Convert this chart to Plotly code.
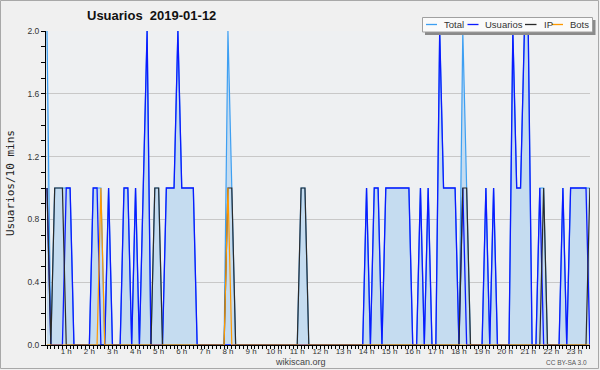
import plotly.graph_objects as go

# 10-minute slots (142 points shown), hour labels
slots = list(range(142))
hour_labels = [f"{h} h" for h in range(1, 24)]
hour_pos = [6 * h - 1 for h in range(1, 24)]

# values per 10-minute slot, grouped by hour (6 per row)
total = [
    2, 0, 1, 1, 1, 1,
    1, 0, 0, 0, 0, 0,
    1, 1, 1, 0, 1, 0,
    0, 0, 1, 1, 0, 1,
    0, 1, 2, 0, 1, 1,
    0, 1, 1, 1, 2, 1,
    1, 1, 1, 0, 0, 0,
    0, 0, 0, 0, 0, 2,
    1, 0, 0, 0, 0, 0,
    0, 0, 0, 0, 0, 0,
    0, 0, 0, 0, 0, 0,
    1, 1, 0, 0, 0, 0,
    0, 0, 0, 0, 0, 0,
    0, 0, 0, 0, 0, 1,
    0, 1, 1, 0, 1, 1,
    1, 1, 1, 1, 1, 0,
    0, 1, 0, 1, 0, 0,
    2, 1, 1, 1, 1, 0,
    2, 1, 0, 0, 0, 0,
    1, 0, 1, 0, 0, 0,
    0, 2, 1, 1, 2, 2,
    0, 0, 1, 1, 0, 0,
    0, 0, 1, 0, 1, 1,
    1, 1, 1, 1,
]
usuarios = [
    1, 0, 0, 0, 0, 1,
    1, 0, 0, 0, 0, 0,
    1, 1, 0, 0, 1, 0,
    0, 0, 1, 1, 0, 1,
    0, 1, 2, 0, 0, 0,
    0, 1, 1, 1, 2, 1,
    1, 1, 1, 0, 0, 0,
    0, 0, 0, 0, 0, 0,
    0, 0, 0, 0, 0, 0,
    0, 0, 0, 0, 0, 0,
    0, 0, 0, 0, 0, 0,
    0, 0, 0, 0, 0, 0,
    0, 0, 0, 0, 0, 0,
    0, 0, 0, 0, 0, 1,
    0, 1, 1, 0, 1, 1,
    1, 1, 1, 1, 1, 0,
    0, 1, 0, 1, 0, 0,
    2, 1, 1, 1, 1, 0,
    1, 0, 0, 0, 0, 0,
    1, 0, 1, 0, 0, 0,
    0, 2, 1, 1, 2, 2,
    0, 0, 1, 0, 0, 0,
    0, 0, 1, 0, 1, 1,
    1, 1, 1, 0,
]
ip = [
    1, 0, 1, 1, 1, 0,
    0, 0, 0, 0, 0, 0,
    0, 0, 0, 0, 0, 0,
    0, 0, 0, 0, 0, 0,
    0, 0, 0, 0, 1, 1,
    0, 0, 0, 0, 0, 0,
    0, 0, 0, 0, 0, 0,
    0, 0, 0, 0, 0, 1,
    1, 0, 0, 0, 0, 0,
    0, 0, 0, 0, 0, 0,
    0, 0, 0, 0, 0, 0,
    1, 1, 0, 0, 0, 0,
    0, 0, 0, 0, 0, 0,
    0, 0, 0, 0, 0, 0,
    0, 0, 0, 0, 0, 0,
    0, 0, 0, 0, 0, 0,
    0, 0, 0, 0, 0, 0,
    0, 0, 0, 0, 0, 0,
    1, 1, 0, 0, 0, 0,
    0, 0, 0, 0, 0, 0,
    0, 0, 0, 0, 0, 0,
    0, 0, 0, 1, 0, 0,
    0, 0, 0, 0, 0, 0,
    0, 0, 0, 1,
]
bots = [
    0, 0, 0, 0, 0, 0,
    0, 0, 0, 0, 0, 0,
    0, 0, 1, 0, 0, 0,
    0, 0, 0, 0, 0, 0,
    0, 0, 0, 0, 0, 0,
    0, 0, 0, 0, 0, 0,
    0, 0, 0, 0, 0, 0,
    0, 0, 0, 0, 0, 1,
    0, 0, 0, 0, 0, 0,
    0, 0, 0, 0, 0, 0,
    0, 0, 0, 0, 0, 0,
    0, 0, 0, 0, 0, 0,
    0, 0, 0, 0, 0, 0,
    0, 0, 0, 0, 0, 0,
    0, 0, 0, 0, 0, 0,
    0, 0, 0, 0, 0, 0,
    0, 0, 0, 0, 0, 0,
    0, 0, 0, 0, 0, 0,
    0, 0, 0, 0, 0, 0,
    0, 0, 0, 0, 0, 0,
    0, 0, 0, 0, 0, 0,
    0, 0, 0, 0, 0, 0,
    0, 0, 0, 0, 0, 0,
    0, 0, 0, 0,
]

series_names = ["Total", "Usuarios", "IP", "Bots"]
series_colors = ["#3d9ff2", "#0a1aff", "#2a2a2a", "#ff9900"]

W, H = 600, 370
ML, MR, MT, MB = 46, 10, 31, 25
PW, PH = W - ML - MR, H - MT - MB


def px(x):
    return (x - ML) / PW


def py(y):
    return (H - MB - y) / PH


FONT = "Liberation Sans, Arial, sans-serif"

fig = go.Figure()
fig.add_trace(go.Scatter(x=slots, y=total, mode="lines", name="Total",
                         line=dict(color=series_colors[0], width=1.2),
                         fill="tozeroy", fillcolor="#c5dcf0"))
fig.add_trace(go.Scatter(x=slots, y=usuarios, mode="lines", name="Usuarios",
                         line=dict(color=series_colors[1], width=1.3)))
fig.add_trace(go.Scatter(x=slots, y=ip, mode="lines", name="IP",
                         line=dict(color=series_colors[2], width=1.2)))
fig.add_trace(go.Scatter(x=slots, y=bots, mode="lines", name="Bots",
                         line=dict(color=series_colors[3], width=1.2)))

shapes = []
annotations = []

# outer border
shapes.append(dict(type="rect", xref="paper", yref="paper",
                   x0=px(0.5), x1=px(598.5), y0=py(0.5), y1=py(368.5),
                   line=dict(color="#a8a8a8", width=1), layer="above"))

# legend box with shadow
shapes.append(dict(type="rect", xref="paper", yref="paper",
                   x0=px(425), x1=px(595.5), y0=py(20), y1=py(35),
                   fillcolor="#8a8a8a", line=dict(width=0), layer="above"))
shapes.append(dict(type="rect", xref="paper", yref="paper",
                   x0=px(422.5), x1=px(592.5), y0=py(17.5), y1=py(32),
                   fillcolor="#fafafa", line=dict(color="#a0a0a0", width=1),
                   layer="above"))
leg_samples = [(426, 437), (467.5, 478.5), (525, 536.5), (552, 563)]
leg_text_x = [442, 483, 542, 568]
for (a, b), tx, name, col in zip(leg_samples, leg_text_x, series_names, series_colors):
    shapes.append(dict(type="line", xref="paper", yref="paper",
                       x0=px(a), x1=px(b), y0=py(24.5), y1=py(24.5),
                       line=dict(color=col, width=1.3), layer="above"))
    annotations.append(dict(xref="paper", yref="paper", x=px(tx), y=py(24.5),
                            text=name, showarrow=False, xanchor="left",
                            yanchor="middle",
                            font=dict(family=FONT, size=9.5, color="#333333")))

# title
annotations.append(dict(xref="paper", yref="paper", x=px(151), y=py(16),
                        text="Usuarios\u00a0\u00a02019-01-12", showarrow=False,
                        xanchor="center", yanchor="middle",
                        font=dict(family=FONT, size=13, color="#111111",
                                  weight="bold")))
# y title
annotations.append(dict(xref="paper", yref="paper", x=px(10), y=py(183),
                        text="Usuarios/10 mins", showarrow=False, textangle=-90,
                        xanchor="center", yanchor="middle",
                        font=dict(family="DejaVu Sans Mono, monospace", size=11,
                                  color="#222222")))
# footer
annotations.append(dict(xref="paper", yref="paper", x=px(300), y=py(361.5),
                        text="wikiscan.org", showarrow=False,
                        xanchor="center", yanchor="middle",
                        font=dict(family=FONT, size=9, color="#444444")))
annotations.append(dict(xref="paper", yref="paper", x=px(589), y=py(362.5),
                        text="CC BY-SA 3.0", showarrow=False,
                        xanchor="right", yanchor="middle",
                        font=dict(family=FONT, size=6.5, color="#555555")))

fig.update_layout(
    width=W, height=H,
    margin=dict(l=ML, r=MR, t=MT, b=MB, pad=0),
    paper_bgcolor="#f0f0f0", plot_bgcolor="#eef0f2",
    showlegend=False,
    shapes=shapes, annotations=annotations,
    xaxis=dict(range=[(ML - 47) / 3.85, (W - MR - 47) / 3.85],
               tickmode="array", tickvals=hour_pos, ticktext=hour_labels,
               ticks="outside", ticklen=3, tickcolor="black", tickwidth=1,
               ticklabelstandoff=-5,
               showline=True, linecolor="black", linewidth=1,
               showgrid=False, zeroline=False,
               tickfont=dict(family=FONT, size=8, color="#333333"),
               minor=dict(tickmode="linear", tick0=0, dtick=1, ticks="outside",
                          ticklen=3, tickcolor="black", showgrid=False)),
    yaxis=dict(range=[0, 2.0], tickmode="linear", tick0=0, dtick=0.4,
               tickformat=".1f",
               ticks="outside", ticklen=4, tickcolor="black",
               showline=True, linecolor="black", linewidth=1,
               showgrid=True, gridcolor="#c8c8c8", gridwidth=1,
               zeroline=False,
               tickfont=dict(family=FONT, size=8.5, color="#333333"),
               minor=dict(tickmode="linear", tick0=0, dtick=0.1,
                          ticks="outside", ticklen=4, tickcolor="black",
                          showgrid=False)),
)

fig.write_html("out.html")
